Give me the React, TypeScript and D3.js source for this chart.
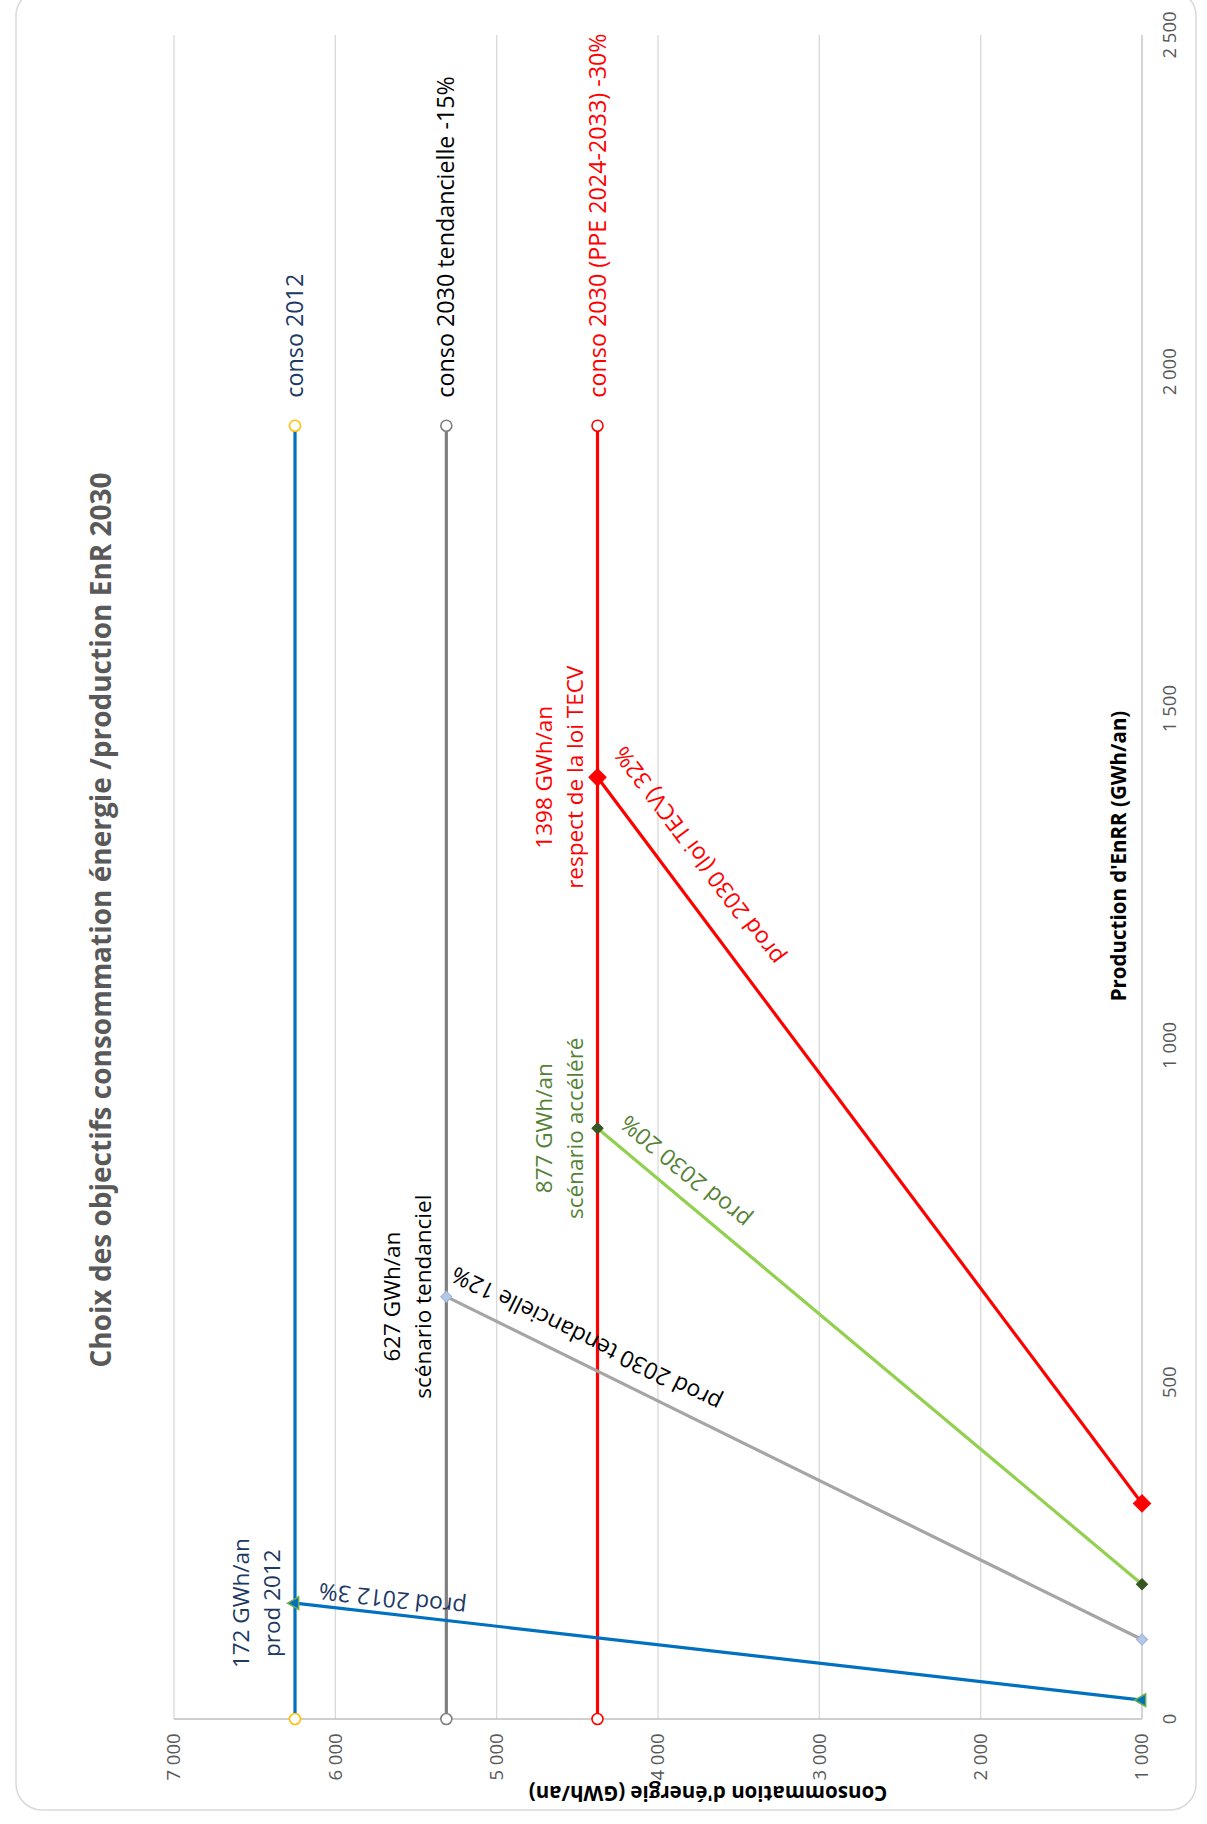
import * as d3 from "d3";

const W = 1207;
const H = 1824;

// axes
const prodTicks = [0, 500, 1000, 1500, 2000, 2500];
const consoTicks = [7000, 6000, 5000, 4000, 3000, 2000, 1000];

// horizontal "conso" lines (constant consumption)
const consoNames = ["conso 2012", "conso 2030 tendancielle -15%", "conso 2030 (PPE 2024-2033) -30%"];
const consoValues = [6250, 5312, 4375];
const consoProdEnd = 1920;

// "prod" lines: from scenario point down to conso = 1000
const prodNames = ["prod 2012 3%", "prod 2030 tendancielle 12%", "prod 2030 20%", "prod 2030 (loi TECV) 32%"];
const prodTop = [172, 627, 877, 1398];
const prodTopConso = [6250, 5312, 4375, 4375];
const prodBottom = [28, 118, 200, 320];
const prodBottomConso = 1000;
const scenarioLabels = [
  ["172 GWh/an", "prod 2012"],
  ["627 GWh/an", "scénario tendanciel"],
  ["877 GWh/an", "scénario accéléré"],
  ["1398 GWh/an", "respect de la loi TECV"],
];

// styles
const consoLine = ["#0070C0", "#7F7F7F", "#FF0000"];
const consoMarker = ["#FFC000", "#7F7F7F", "#FF0000"];
const consoText = ["#203864", "#000000", "#FF0000"];
const prodLine = ["#0070C0", "#A5A5A5", "#92D050", "#FF0000"];
const prodText = ["#203864", "#000000", "#548235", "#FF0000"];
const prodLabelPos = [0.113, 0.186, 0.134, 0.136];
const prodLabelOff = [23, 32, 31, 42];

const fr = d3.formatLocale({ decimal: ",", thousands: "\u00a0", grouping: [3], currency: ["", " €"] });
const fmt = fr.format(",d");

export default function App() {
  const x = d3.scaleLinear().domain([7000, 1000]).range([174, 1142]);
  const y = d3.scaleLinear().domain([0, 2500]).range([1719, 35]);

  const line = d3.line<[number, number]>();
  const tri = d3.symbol(d3.symbolTriangle, 70)();
  const sqSmall = d3.symbol(d3.symbolSquare, 62)();
  const sqBig = d3.symbol(d3.symbolSquare, 150)();

  const marker = (i: number, px: number, py: number) => {
    if (i === 0)
      return <path d={tri!} transform={`translate(${px},${py}) rotate(-90)`} fill="#0070C0" stroke="#70AD47" strokeWidth={1.5} />;
    if (i === 1)
      return <path d={sqSmall!} transform={`translate(${px},${py}) rotate(45)`} fill="#B4C7E7" stroke="#9DB3D6" strokeWidth={1} />;
    if (i === 2)
      return <path d={sqSmall!} transform={`translate(${px},${py}) rotate(45)`} fill="#375623" stroke="#375623" strokeWidth={1} />;
    return <path d={sqBig!} transform={`translate(${px},${py}) rotate(45)`} fill="#FF0000" stroke="#FF0000" strokeWidth={1} />;
  };

  return (
    <svg width={W} height={H} style={{ position: "absolute", left: 0, top: 0, background: "#fff" }} fontFamily="'Open Sans', sans-serif">
      <rect x={16} y={-10} width={1180} height={1820} rx={26} fill="#fff" stroke="#D9D9D9" strokeWidth={1.5} />

      {/* grid */}
      {consoTicks.filter((d) => d !== 1000).map((d) => (
        <line key={d} x1={x(d)} x2={x(d)} y1={y(0)} y2={y(2500)} stroke="#D9D9D9" strokeWidth={1.3} />
      ))}
      <line x1={x(1000)} x2={x(1000)} y1={y(0)} y2={y(2500)} stroke="#BFBFBF" strokeWidth={1.3} />
      <line x1={x(7000)} x2={x(1000)} y1={y(0)} y2={y(0)} stroke="#BFBFBF" strokeWidth={1.3} />

      {/* tick labels */}
      {prodTicks.map((d) => (
        <text key={d} transform={`translate(1170,${y(d)}) rotate(-90)`} textAnchor="middle" dy="0.35em" fontSize={18.5} fill="#595959">
          {fmt(d)}
        </text>
      ))}
      {consoTicks.map((d) => (
        <text key={d} transform={`translate(${x(d)},1757) rotate(-90)`} textAnchor="middle" dy="0.35em" fontSize={18.5} fill="#595959">
          {fmt(d)}
        </text>
      ))}

      {/* titles */}
      <text transform="translate(111,920) rotate(-90)" textAnchor="middle" fontSize={28} fontWeight="bold" fill="#595959">
        Choix des objectifs consommation énergie /production EnR 2030
      </text>
      <text transform="translate(1126,856) rotate(-90)" textAnchor="middle" fontSize={20.5} fontWeight="bold" fill="#000">
        Production d'EnRR (GWh/an)
      </text>
      <text transform="translate(708,1786) rotate(180)" textAnchor="middle" fontSize={20.5} fontWeight="bold" fill="#000">
        Consommation d'énergie (GWh/an)
      </text>

      {/* conso lines */}
      {consoValues.map((c, i) => (
        <g key={i}>
          <path d={line([[x(c), y(0)], [x(c), y(consoProdEnd)]])!} stroke={consoLine[i]} strokeWidth={3.2} fill="none" />
          <circle cx={x(c)} cy={y(0)} r={5.5} fill="#fff" stroke={consoMarker[i]} strokeWidth={1.6} />
          <circle cx={x(c)} cy={y(consoProdEnd)} r={5.5} fill="#fff" stroke={consoMarker[i]} strokeWidth={1.6} />
          <text transform={`translate(${x(c)},${y(consoProdEnd) - 28}) rotate(-90)`} dy="0.35em" fontSize={23.3} fill={consoText[i]}>
            {consoNames[i]}
          </text>
        </g>
      ))}

      {/* prod lines */}
      {prodTop.map((p, i) => {
        const x1 = x(prodTopConso[i]);
        const y1 = y(p);
        const x2 = x(prodBottomConso);
        const y2 = y(prodBottom[i]);
        const a = (Math.atan2(y2 - y1, x2 - x1) * 180) / Math.PI;
        const t = prodLabelPos[i];
        const cx = x1 + t * (x2 - x1);
        const cy = y1 + t * (y2 - y1);
        return (
          <g key={i}>
            <path d={line([[x1, y1], [x2, y2]])!} stroke={prodLine[i]} strokeWidth={3.2} fill="none" />
            {marker(i, x1, y1)}
            {marker(i, x2, y2)}
            <text transform={`translate(${cx},${cy}) rotate(${a + 180})`} y={prodLabelOff[i]} textAnchor="middle" fontSize={23} fill={prodText[i]}>
              {prodNames[i]}
            </text>
            <g transform={`translate(${x1},${y1}) rotate(-90)`} fontSize={22.5} fill={prodText[i]} textAnchor="middle">
              <text y={-46}>{scenarioLabels[i][0]}</text>
              <text y={-15}>{scenarioLabels[i][1]}</text>
            </g>
          </g>
        );
      })}
    </svg>
  );
}
